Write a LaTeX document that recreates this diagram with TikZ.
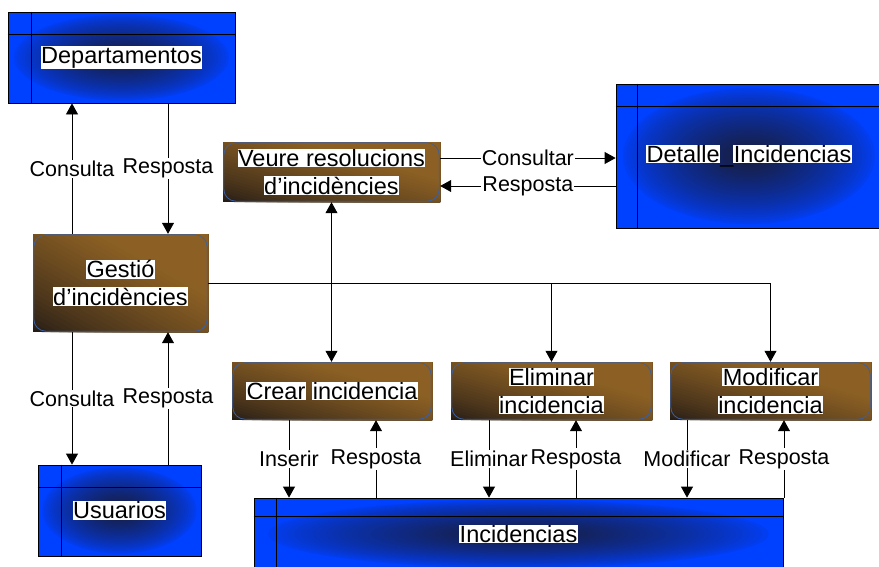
\documentclass[tikz,border=0pt]{standalone}
\usepackage{fontspec}
\setmainfont{Liberation Sans}
\usetikzlibrary{arrows.meta,calc}
\definecolor{bblue}{RGB}{0,64,255}
\definecolor{bdark}{RGB}{24,28,58}
\definecolor{brL}{RGB}{140,96,36}
\definecolor{brD}{RGB}{36,28,22}
\definecolor{rimcol}{RGB}{60,95,160}
\newcommand{\hw}[1]{{\setlength{\fboxsep}{0.5pt}\colorbox{white}{#1}}}
\newcommand{\boxfont}{\fontsize{23.5}{27.5}\selectfont}
\newcommand{\lblfont}{\fontsize{21.5}{24}\selectfont}
\tikzset{
  tbl/.style={draw=black, line width=0.8pt, fill=bblue, inner sep=0pt, font=\boxfont,
    path picture={
      \foreach \i in {1,...,40}{
        \pgfmathsetmacro{\ff}{1-(\i-1)/40}
        \pgfmathsetmacro{\pc}{100*(1-\ff)^0.7}
        \fill[bdark!\pc!bblue]
          let \p1=($(path picture bounding box.north east)-(path picture bounding box.center)$) in
          (path picture bounding box.center) ellipse [x radius=0.97*\ff*\x1, y radius=0.97*\ff*\y1];
      }}},
  inner/.style={draw=black, line width=0.8pt},
  pbox/.style={fill=brD, inner sep=0pt, align=center, font=\boxfont,
    path picture={
      \foreach \i in {1,...,28}{
        \pgfmathsetmacro{\sv}{\i/40}
        \pgfmathsetmacro{\pc}{min(100,100*(\sv/0.68)^0.75)}
        \fill[brL!\pc!brD]
          let \p1=(path picture bounding box.south west), \p2=(path picture bounding box.north east) in
          ({\x1+2*\sv*(\x2-\x1)},\y1) -- (\x1,{\y1+2*\sv*(\y2-\y1)}) -- (\x1,{\y1+3*(\y2-\y1)})
          -- ({\x1+3*(\x2-\x1)},{\y1+3*(\y2-\y1)}) -- ({\x1+3*(\x2-\x1)},\y1) -- cycle;
      }}},
  rim/.style={draw=rimcol, line width=0.8pt, rounded corners=12pt},
  arr/.style={draw=black, line width=0.8pt, -{Triangle[length=11pt,width=12pt]}},
  dblarr/.style={draw=black, line width=0.8pt, {Triangle[length=11pt,width=12pt]}-{Triangle[length=11pt,width=12pt]}},
  lbl/.style={fill=white, inner sep=1pt, font=\lblfont}
}
\begin{document}
\begin{tikzpicture}[x=1pt,y=-1pt]
\useasboundingbox (0,0) rectangle (879,566);
\clip (0,0) rectangle (879,566);
\fill[white] (0,0) rectangle (879,566);

% tables (blue)
\node[tbl, minimum width=227pt, minimum height=91pt] (dep) at (121.5,57.5) {\hw{Departamentos}};
\node[tbl, minimum width=266pt, minimum height=144pt] (det) at (749,156) {\hw{Detalle}\_\hw{Incidencias}};
\node[tbl, minimum width=163pt, minimum height=91pt] (usu) at (119.5,510.5) {\hw{Usuarios}};
\node[tbl, minimum width=529pt, minimum height=72pt] (inc) at (518.5,534) {\hw{Incidencias}};
\foreach \n/\a/\b in {dep/24/23, det/22/23, usu/24/23, inc/23/19}{
  \draw[inner] ([xshift=\a pt]\n.north west) -- ([xshift=\a pt]\n.south west);
  \draw[inner] ([yshift=-\b pt]\n.north west) -- ([yshift=-\b pt]\n.north east);
}

% processes (brown)
\node[pbox, minimum width=175pt, minimum height=98pt] (gest) at (120.5,283) {\hw{Gestió}\\\hw{d’incidències}};
\node[pbox, minimum width=217pt, minimum height=60pt] (veure) at (331.5,172) {\hw{Veure resolucions}\\\hw{d’incidències}};
\node[pbox, minimum width=200pt, minimum height=58pt] (crear) at (332,391) {\hw{Crear} \hw{incidencia}};
\node[pbox, minimum width=201pt, minimum height=58pt] (eli) at (551.5,391) {\hw{Eliminar}\\\hw{incidencia}};
\node[pbox, minimum width=201pt, minimum height=58pt] (mod) at (770.5,391) {\hw{Modificar}\\\hw{incidencia}};
\foreach \n in {gest,veure,crear,eli,mod}{
  \draw[rim] ([shift={(1pt,-1pt)}]\n.north west) rectangle ([shift={(-1pt,1pt)}]\n.south east);
}

% lane coordinates
\coordinate (xc) at (72,0);
\coordinate (xr) at (168,0);
\coordinate (yt) at (0,158);
\coordinate (yb) at (0,186);
\coordinate (x1) at (289,0);
\coordinate (x2) at (376,0);
\coordinate (x3) at (489,0);
\coordinate (x4) at (576,0);
\coordinate (x5) at (687,0);
\coordinate (x6) at (784,0);

% connectors
\draw[arr] (gest.north -| xc) -- node[lbl]{Consulta} (dep.south -| xc);
\draw[arr] (dep.south -| xr) -- node[lbl]{Resposta} (gest.north -| xr);
\draw[arr] (gest.south -| xc) -- node[lbl]{Consulta} (usu.north -| xc);
\draw[arr] (usu.north -| xr) -- node[lbl]{Resposta} (gest.south -| xr);
\draw[arr] (veure.east |- yt) -- node[lbl]{Consultar} (det.west |- yt);
\draw[arr] (det.west |- yb) -- node[lbl]{Resposta} (veure.east |- yb);
\draw[dblarr] (veure.south) -- (veure.south |- crear.north);
\draw[arr] (gest.east) -| (mod.north);
\draw[arr] (gest.east -| eli.north) -- (eli.north);
\draw[arr] (crear.south -| x1) -- node[lbl]{Inserir} (inc.north -| x1);
\draw[arr] (inc.north -| x2) -- node[lbl]{Resposta} (crear.south -| x2);
\draw[arr] (eli.south -| x3) -- node[lbl]{Eliminar} (inc.north -| x3);
\draw[arr] (inc.north -| x4) -- node[lbl]{Resposta} (eli.south -| x4);
\draw[arr] (mod.south -| x5) -- node[lbl]{Modificar} (inc.north -| x5);
\draw[arr] (inc.north -| x6) -- node[lbl]{Resposta} (mod.south -| x6);
\end{tikzpicture}
\end{document}
